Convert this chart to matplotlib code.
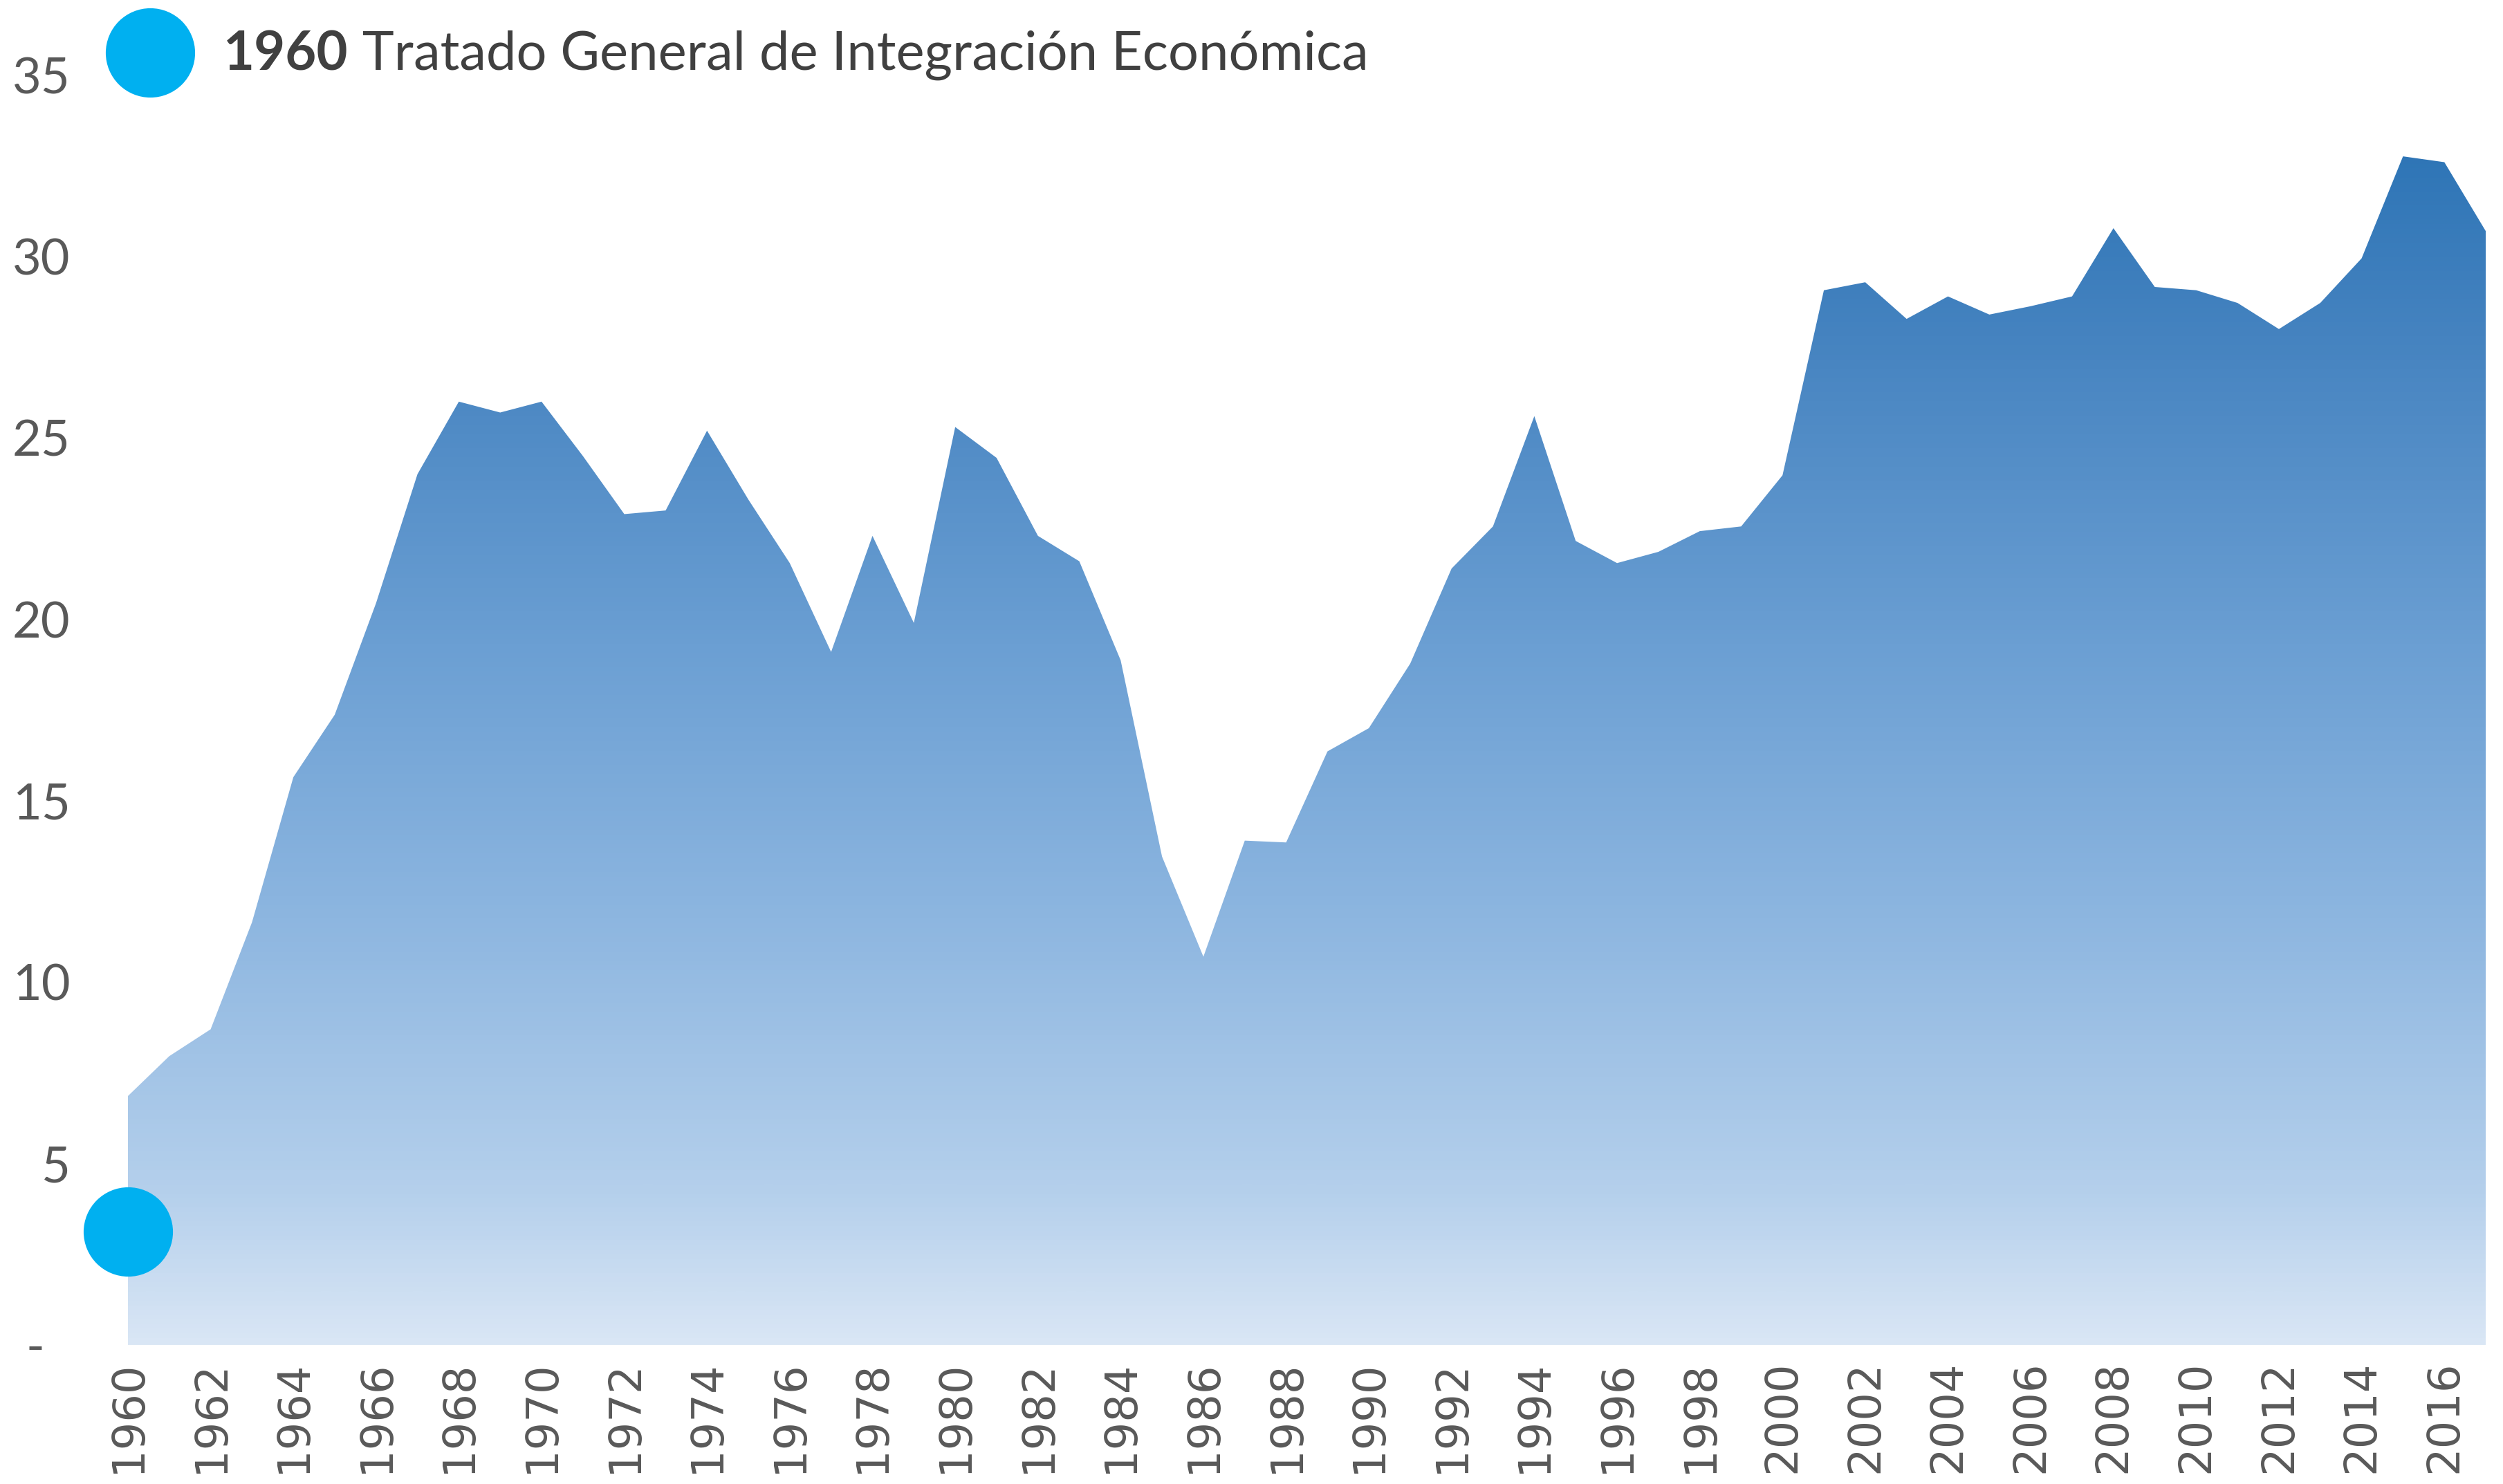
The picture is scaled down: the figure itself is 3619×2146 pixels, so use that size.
import numpy as np
import matplotlib.pyplot as plt
from matplotlib.colors import LinearSegmentedColormap

years = list(range(1960, 2018))
values = [6.86, 7.96, 8.7, 11.65, 15.65, 17.37, 20.45, 24.0, 26.0, 25.7,
          26.0, 24.5, 22.9, 23.0, 25.2, 23.3, 21.55, 19.1, 22.3, 19.9,
          25.3, 24.45, 22.3, 21.6, 18.87, 13.46, 10.7, 13.9, 13.85, 16.36,
          17.0, 18.78, 21.4, 22.56, 25.6, 22.16, 21.55, 21.86, 22.43, 22.56,
          23.97, 29.07, 29.29, 28.28, 28.9, 28.4, 28.63, 28.9, 30.78, 29.16,
          29.07, 28.72, 28.0, 28.72, 29.95, 32.76, 32.6, 30.7]
event_year = 1960
event_value = 3.12
event_label = "Tratado General de Integración Económica"
yticks = [0, 5, 10, 15, 20, 25, 30, 35]
ytick_labels = ["-  ", "5", "10", "15", "20", "25", "30", "35"]

fig = plt.figure(figsize=(36.19, 21.46), dpi=100)
ax = fig.add_axes([0.0511, 0.0937, 0.942, 0.8557])

x = np.array(years)
y = np.array(values)

# gradient fill, clipped to the area under the curve
poly = ax.fill_between(x, y, 0, color='none', lw=0)
stops = [(0.0, '#d9e6f5'), (0.124, '#b5d0ec'), (0.355, '#8db6e0'),
         (0.585, '#6b9fd3'), (0.845, '#4583c0'), (1.0, '#2e75b6')]
cmap = LinearSegmentedColormap.from_list('g', stops)
grad = np.linspace(0, 1, 256).reshape(-1, 1)
im = ax.imshow(grad, extent=[x[0], x[-1], 0, 33], origin='lower',
               aspect='auto', cmap=cmap, interpolation='bicubic')
im.set_clip_path(poly.get_paths()[0], transform=ax.transData)

ax.plot([event_year], [event_value], 'o', ms=93, color='#00b0f0', mec='none',
        clip_on=False, zorder=5)

ax.set_xlim(1960, 2017)
ax.set_ylim(0, 35)
ax.set_xticks(years[::2])
ax.set_xticklabels([str(v) for v in years[::2]], rotation=90, fontsize=46,
                   color='#595959', family='DejaVu Sans')
ax.set_yticks(yticks)
ax.set_yticklabels(ytick_labels, fontsize=52, color='#595959', family='Lato')
ax.tick_params(length=0)
ax.tick_params(axis='y', pad=60)
ax.tick_params(axis='x', pad=16)
for s in ax.spines.values():
    s.set_visible(False)

# legend-like title
fig.lines.append(plt.Line2D([0.06], [0.9646], marker='o', ms=93, color='#00b0f0',
                            mec='none', transform=fig.transFigure))
t1 = fig.text(0.0893, 0.9527, str(event_year), fontsize=56, fontweight='bold',
              color='#404040', family='Lato', va='baseline')
ax.annotate(' ' + event_label, xy=(1, 0), xycoords=t1, va='bottom',
            fontsize=56, color='#404040', family='Lato',
            annotation_clip=False)

fig.savefig('out.png', dpi=100)
